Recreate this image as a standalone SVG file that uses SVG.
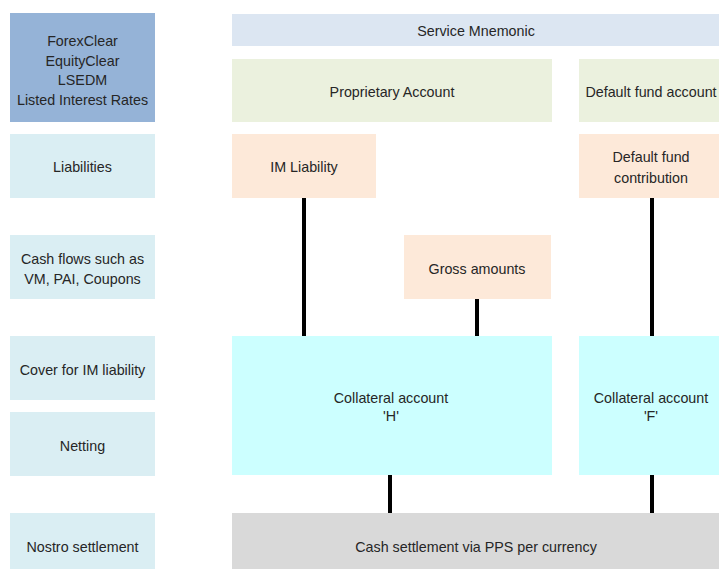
<svg xmlns="http://www.w3.org/2000/svg" width="719" height="569" viewBox="0 0 719 569">
  <style>
    text { font-family: "Liberation Sans", Arial, sans-serif; font-size: 14.3px; fill: #262626; text-anchor: middle; }
    .head { fill: #95B3D7; }
    .row { fill: #DAEEF3; }
    .svc { fill: #DCE6F2; }
    .acct { fill: #EBF1DE; }
    .liab { fill: #FDE9D9; }
    .coll { fill: #CCFFFF; }
    .cash { fill: #D9D9D9; }
    .link { stroke: #000; stroke-width: 4; fill: none; }
  </style>
  <rect width="719" height="569" fill="#FFFFFF"/>

  <!-- Row labels -->
  <g id="services">
    <rect class="head" x="10" y="13" width="145" height="109"/>
    <text x="82.5" y="46">ForexClear</text>
    <text x="82.5" y="65.5">EquityClear</text>
    <text x="82.5" y="85">LSEDM</text>
    <text x="82.5" y="104.5">Listed Interest Rates</text>
  </g>
  <g id="row-liabilities">
    <rect class="row" x="10" y="134" width="145" height="64"/>
    <text x="82.5" y="172">Liabilities</text>
  </g>
  <g id="row-cashflows">
    <rect class="row" x="10" y="235" width="145" height="64"/>
    <text x="82.5" y="263.5">Cash flows such as</text>
    <text x="82.5" y="283.5">VM, PAI, Coupons</text>
  </g>
  <g id="row-cover">
    <rect class="row" x="10" y="336" width="145" height="64"/>
    <text x="82.5" y="374.5">Cover for IM liability</text>
  </g>
  <g id="row-netting">
    <rect class="row" x="10" y="412" width="145" height="64"/>
    <text x="82.5" y="450.5">Netting</text>
  </g>
  <g id="row-nostro">
    <rect class="row" x="10" y="513" width="145" height="56"/>
    <text x="82.5" y="551.5">Nostro settlement</text>
  </g>

  <!-- Connectors -->
  <g id="connectors">
    <line class="link" x1="304" y1="198" x2="304" y2="336"/>
    <line class="link" x1="477" y1="299" x2="477" y2="336"/>
    <line class="link" x1="652" y1="198" x2="652" y2="336"/>
    <line class="link" x1="390" y1="475" x2="390" y2="513"/>
    <line class="link" x1="652" y1="475" x2="652" y2="513"/>
  </g>

  <!-- Account structure -->
  <g id="service-mnemonic">
    <rect class="svc" x="232" y="14" width="487" height="32"/>
    <text x="476" y="35.5">Service Mnemonic</text>
  </g>
  <g id="proprietary-account">
    <rect class="acct" x="232" y="59" width="320" height="63"/>
    <text x="392" y="96.5">Proprietary Account</text>
  </g>
  <g id="default-fund-account">
    <rect class="acct" x="579" y="59" width="140" height="63"/>
    <text x="651" y="96.5">Default fund account</text>
  </g>
  <g id="im-liability">
    <rect class="liab" x="232" y="134" width="144" height="64"/>
    <text x="304" y="172">IM Liability</text>
  </g>
  <g id="default-fund-contribution">
    <rect class="liab" x="579" y="134" width="140" height="64"/>
    <text x="651" y="162">Default fund</text>
    <text x="651" y="182.5">contribution</text>
  </g>
  <g id="gross-amounts">
    <rect class="liab" x="404" y="235" width="147" height="64"/>
    <text x="477" y="273.5">Gross amounts</text>
  </g>
  <g id="collateral-h">
    <rect class="coll" x="232" y="336" width="320" height="139"/>
    <text x="391" y="402.5">Collateral account</text>
    <text x="391" y="421">'H'</text>
  </g>
  <g id="collateral-f">
    <rect class="coll" x="579" y="336" width="140" height="139"/>
    <text x="651" y="402.5">Collateral account</text>
    <text x="651" y="421">'F'</text>
  </g>
  <g id="cash-settlement">
    <rect class="cash" x="232" y="513" width="487" height="56"/>
    <text x="476" y="551.5">Cash settlement via PPS per currency</text>
  </g>
</svg>
